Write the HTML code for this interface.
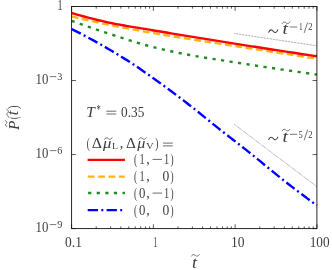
<!DOCTYPE html>
<html><head><meta charset="utf-8">
<style>
html,body{margin:0;padding:0;background:#fff;}
body{width:332px;height:270px;overflow:hidden;}
svg{display:block;}
text{font-family:"Liberation Serif",serif;fill:#3c3c3c;}
</style></head><body>
<svg width="332" height="270" viewBox="0 0 332 270">
<rect width="332" height="270" fill="#fff"/>
<path d="M234.5,33.5 L316.5,45.8" stroke="#333" stroke-width="0.7" stroke-dasharray="0.6,0.9" fill="none"/>
<path d="M234.5,124.5 L316.5,186.3" stroke="#333" stroke-width="0.7" stroke-dasharray="0.6,0.9" fill="none"/>
<path d="M71.60,29.00 L74.71,30.56 L77.81,32.13 L80.92,33.74 L84.02,35.37 L87.13,37.02 L90.23,38.69 L93.34,40.39 L96.44,42.10 L99.55,43.84 L102.65,45.61 L105.76,47.39 L108.86,49.20 L111.97,51.03 L115.07,52.89 L118.18,54.78 L121.28,56.69 L124.39,58.62 L127.49,60.59 L130.60,62.59 L133.70,64.62 L136.81,66.69 L139.91,68.80 L143.02,70.94 L146.12,73.10 L149.23,75.29 L152.33,77.50 L155.44,79.72 L158.54,81.95 L161.65,84.19 L164.75,86.45 L167.86,88.73 L170.96,91.03 L174.07,93.34 L177.17,95.68 L180.28,98.03 L183.38,100.40 L186.49,102.78 L189.59,105.18 L192.70,107.61 L195.80,110.07 L198.91,112.56 L202.01,115.07 L205.12,117.60 L208.22,120.12 L211.33,122.65 L214.43,125.16 L217.54,127.65 L220.64,130.11 L223.75,132.54 L226.85,134.95 L229.96,137.34 L233.06,139.73 L236.17,142.12 L239.27,144.52 L242.38,146.94 L245.48,149.38 L248.59,151.85 L251.69,154.34 L254.80,156.85 L257.90,159.38 L261.01,161.91 L264.11,164.46 L267.22,167.00 L270.32,169.54 L273.43,172.07 L276.53,174.60 L279.64,177.10 L282.74,179.59 L285.85,182.05 L288.95,184.49 L292.06,186.89 L295.16,189.28 L298.27,191.64 L301.37,193.99 L304.48,196.32 L307.58,198.64 L310.69,200.94 L313.79,203.23 L316.90,205.50" stroke="#0000ff" stroke-width="2.4" fill="none" stroke-dasharray="10.3,3.3,2,3.3"/>
<path d="M71.60,20.90 L74.71,22.01 L77.81,23.11 L80.92,24.20 L84.02,25.28 L87.13,26.35 L90.23,27.42 L93.34,28.48 L96.44,29.53 L99.55,30.56 L102.65,31.60 L105.76,32.62 L108.86,33.63 L111.97,34.64 L115.07,35.65 L118.18,36.67 L121.28,37.68 L124.39,38.69 L127.49,39.69 L130.60,40.67 L133.70,41.64 L136.81,42.59 L139.91,43.52 L143.02,44.41 L146.12,45.27 L149.23,46.10 L152.33,46.89 L155.44,47.67 L158.54,48.42 L161.65,49.16 L164.75,49.87 L167.86,50.58 L170.96,51.26 L174.07,51.93 L177.17,52.58 L180.28,53.21 L183.38,53.83 L186.49,54.44 L189.59,55.02 L192.70,55.59 L195.80,56.15 L198.91,56.68 L202.01,57.19 L205.12,57.70 L208.22,58.19 L211.33,58.68 L214.43,59.16 L217.54,59.64 L220.64,60.12 L223.75,60.60 L226.85,61.09 L229.96,61.58 L233.06,62.06 L236.17,62.55 L239.27,63.03 L242.38,63.51 L245.48,64.00 L248.59,64.48 L251.69,64.95 L254.80,65.43 L257.90,65.91 L261.01,66.38 L264.11,66.85 L267.22,67.32 L270.32,67.79 L273.43,68.26 L276.53,68.73 L279.64,69.19 L282.74,69.65 L285.85,70.11 L288.95,70.57 L292.06,71.03 L295.16,71.48 L298.27,71.93 L301.37,72.38 L304.48,72.83 L307.58,73.28 L310.69,73.72 L313.79,74.16 L316.90,74.60" stroke="#228b22" stroke-width="2.4" fill="none" stroke-dasharray="3.2,5.4"/>
<path d="M71.60,16.30 L74.71,17.06 L77.81,17.81 L80.92,18.55 L84.02,19.28 L87.13,20.00 L90.23,20.71 L93.34,21.42 L96.44,22.11 L99.55,22.79 L102.65,23.46 L105.76,24.12 L108.86,24.77 L111.97,25.40 L115.07,26.03 L118.18,26.64 L121.28,27.25 L124.39,27.85 L127.49,28.44 L130.60,29.02 L133.70,29.59 L136.81,30.16 L139.91,30.72 L143.02,31.27 L146.12,31.82 L149.23,32.37 L152.33,32.90 L155.44,33.44 L158.54,33.97 L161.65,34.49 L164.75,35.01 L167.86,35.52 L170.96,36.03 L174.07,36.54 L177.17,37.04 L180.28,37.54 L183.38,38.03 L186.49,38.52 L189.59,39.01 L192.70,39.50 L195.80,39.99 L198.91,40.47 L202.01,40.95 L205.12,41.44 L208.22,41.92 L211.33,42.40 L214.43,42.88 L217.54,43.36 L220.64,43.84 L223.75,44.32 L226.85,44.81 L229.96,45.29 L233.06,45.78 L236.17,46.26 L239.27,46.75 L242.38,47.23 L245.48,47.71 L248.59,48.20 L251.69,48.68 L254.80,49.16 L257.90,49.64 L261.01,50.12 L264.11,50.59 L267.22,51.07 L270.32,51.55 L273.43,52.02 L276.53,52.50 L279.64,52.97 L282.74,53.45 L285.85,53.92 L288.95,54.39 L292.06,54.86 L295.16,55.33 L298.27,55.80 L301.37,56.27 L304.48,56.74 L307.58,57.20 L310.69,57.67 L313.79,58.14 L316.90,58.60" stroke="#ffb31a" stroke-width="2.4" fill="none" stroke-dasharray="6.9,3.5"/>
<path d="M71.60,13.00 L74.71,13.91 L77.81,14.80 L80.92,15.67 L84.02,16.52 L87.13,17.36 L90.23,18.17 L93.34,18.96 L96.44,19.73 L99.55,20.48 L102.65,21.20 L105.76,21.89 L108.86,22.56 L111.97,23.20 L115.07,23.82 L118.18,24.41 L121.28,24.98 L124.39,25.53 L127.49,26.07 L130.60,26.59 L133.70,27.11 L136.81,27.62 L139.91,28.13 L143.02,28.64 L146.12,29.15 L149.23,29.67 L152.33,30.20 L155.44,30.72 L158.54,31.24 L161.65,31.77 L164.75,32.29 L167.86,32.80 L170.96,33.32 L174.07,33.84 L177.17,34.35 L180.28,34.86 L183.38,35.37 L186.49,35.88 L189.59,36.39 L192.70,36.90 L195.80,37.41 L198.91,37.91 L202.01,38.41 L205.12,38.92 L208.22,39.42 L211.33,39.92 L214.43,40.41 L217.54,40.91 L220.64,41.41 L223.75,41.90 L226.85,42.40 L229.96,42.89 L233.06,43.39 L236.17,43.88 L239.27,44.37 L242.38,44.86 L245.48,45.35 L248.59,45.84 L251.69,46.32 L254.80,46.81 L257.90,47.29 L261.01,47.78 L264.11,48.26 L267.22,48.74 L270.32,49.22 L273.43,49.70 L276.53,50.18 L279.64,50.66 L282.74,51.13 L285.85,51.61 L288.95,52.08 L292.06,52.56 L295.16,53.03 L298.27,53.50 L301.37,53.97 L304.48,54.44 L307.58,54.90 L310.69,55.37 L313.79,55.84 L316.90,56.30" stroke="#ff0000" stroke-width="2.4" fill="none"/>
<rect x="71.6" y="6.5" width="245.30" height="222.10" fill="none" stroke="#111" stroke-width="0.9"/>
<path d="M71.60,228.6 v-4.3 M71.60,6.5 v4.3 M96.21,228.6 v-2.2 M96.21,6.5 v2.2 M110.61,228.6 v-2.2 M110.61,6.5 v2.2 M120.83,228.6 v-2.2 M120.83,6.5 v2.2 M128.75,228.6 v-2.2 M128.75,6.5 v2.2 M135.23,228.6 v-2.2 M135.23,6.5 v2.2 M140.70,228.6 v-2.2 M140.70,6.5 v2.2 M145.44,228.6 v-2.2 M145.44,6.5 v2.2 M149.63,228.6 v-2.2 M149.63,6.5 v2.2 M153.37,228.6 v-4.3 M153.37,6.5 v4.3 M177.98,228.6 v-2.2 M177.98,6.5 v2.2 M192.38,228.6 v-2.2 M192.38,6.5 v2.2 M202.60,228.6 v-2.2 M202.60,6.5 v2.2 M210.52,228.6 v-2.2 M210.52,6.5 v2.2 M216.99,228.6 v-2.2 M216.99,6.5 v2.2 M222.47,228.6 v-2.2 M222.47,6.5 v2.2 M227.21,228.6 v-2.2 M227.21,6.5 v2.2 M231.39,228.6 v-2.2 M231.39,6.5 v2.2 M235.13,228.6 v-4.3 M235.13,6.5 v4.3 M259.75,228.6 v-2.2 M259.75,6.5 v2.2 M274.15,228.6 v-2.2 M274.15,6.5 v2.2 M284.36,228.6 v-2.2 M284.36,6.5 v2.2 M292.29,228.6 v-2.2 M292.29,6.5 v2.2 M298.76,228.6 v-2.2 M298.76,6.5 v2.2 M304.23,228.6 v-2.2 M304.23,6.5 v2.2 M308.98,228.6 v-2.2 M308.98,6.5 v2.2 M313.16,228.6 v-2.2 M313.16,6.5 v2.2 M316.90,228.6 v-4.3 M316.90,6.5 v4.3 M71.6,6.50 h4.3 M316.9,6.50 h-4.3 M71.6,80.53 h4.3 M316.9,80.53 h-4.3 M71.6,154.57 h4.3 M316.9,154.57 h-4.3 M71.6,228.60 h4.3 M316.9,228.60 h-4.3" stroke="#111" stroke-width="0.7" fill="none"/>

<path d="M87.6,159.85 H124.9" stroke="#ff0000" stroke-width="2.4"/>
<path d="M87.7,176.6 H124.8" stroke="#ffb31a" stroke-width="2.4" stroke-dasharray="6.9,3.5"/>
<path d="M88.1,193.0 H124.9" stroke="#228b22" stroke-width="2.4" stroke-dasharray="3.2,5.4"/>
<path d="M87.7,210.1 H124.9" stroke="#0000ff" stroke-width="2.4" stroke-dasharray="10.3,3.3,2,3.3"/>

<g opacity="0.999">
<text transform="translate(57.50,10.10) scale(0.729,1.000)" font-size="14">1</text>
<text transform="translate(35.50,84.40) scale(0.914,1.000)" font-size="14">10</text>
<path d="M49.80,76.60 H56.30" stroke="#3c3c3c" stroke-width="0.7" fill="none"/>
<text transform="translate(57.30,80.10) scale(0.971,1.000)" font-size="10.5">3</text>
<text transform="translate(35.50,158.40) scale(0.914,1.000)" font-size="14">10</text>
<path d="M49.80,150.60 H56.30" stroke="#3c3c3c" stroke-width="0.7" fill="none"/>
<text transform="translate(57.30,154.10) scale(0.971,1.000)" font-size="10.5">6</text>
<text transform="translate(35.50,232.40) scale(0.914,1.000)" font-size="14">10</text>
<path d="M49.80,224.60 H56.30" stroke="#3c3c3c" stroke-width="0.7" fill="none"/>
<text transform="translate(57.30,228.10) scale(0.971,1.000)" font-size="10.5">9</text>
<text transform="translate(65.10,246.60) scale(0.960,1.000)" font-size="14">0.1</text>
<text transform="translate(153.60,246.60) scale(0.543,1.000)" font-size="14">1</text>
<text transform="translate(230.90,246.60) scale(0.971,1.000)" font-size="14">10</text>
<text transform="translate(309.70,246.60) scale(0.948,1.000)" font-size="14">100</text>
<text transform="translate(191.90,267.53) scale(1.294,1.184)" font-size="14" font-style="italic">t</text>
<path d="M191.50,256.03 C192.66,253.96 194.43,254.50 195.35,255.40 S198.04,256.84 199.20,254.59" stroke="#3c3c3c" stroke-width="0.75" fill="none" stroke-linecap="round"/>
<text transform="translate(86.30,116.80) scale(1.102,1.000)" font-size="14" font-style="italic">T</text>
<text transform="translate(96.40,113.40) scale(0.717,1.000)" font-size="12">*</text>
<path d="M106.40,111.20 H116.30" stroke="#3c3c3c" stroke-width="0.75" fill="none"/>
<path d="M106.40,114.00 H116.30" stroke="#3c3c3c" stroke-width="0.75" fill="none"/>
<text transform="translate(121.10,116.80) scale(0.947,1.000)" font-size="14">0.35</text>
<text transform="translate(86.70,148.34) scale(0.644,1.095)" font-size="14">(</text>
<text transform="translate(91.80,147.80) scale(1.133,1.000)" font-size="14">Δ</text>
<text transform="translate(103.02,147.80) scale(1.193,1.000)" font-size="14" font-style="italic">μ</text>
<path d="M104.60,139.23 C105.71,137.16 107.41,137.70 108.30,138.60 S110.89,140.04 112.00,137.79" stroke="#3c3c3c" stroke-width="0.75" fill="none" stroke-linecap="round"/>
<text transform="translate(112.10,149.30) scale(1.091,1.000)" font-size="9">L</text>
<text transform="translate(119.80,147.80) scale(1.000,1.000)" font-size="14">,</text>
<text transform="translate(126.00,147.80) scale(1.100,1.000)" font-size="14">Δ</text>
<text transform="translate(137.22,147.80) scale(1.150,1.000)" font-size="14" font-style="italic">μ</text>
<path d="M138.80,139.23 C139.91,137.16 141.61,137.70 142.50,138.60 S145.09,140.04 146.20,137.79" stroke="#3c3c3c" stroke-width="0.75" fill="none" stroke-linecap="round"/>
<text transform="translate(146.00,149.30) scale(1.200,1.000)" font-size="9">V</text>
<text transform="translate(155.30,148.34) scale(0.665,1.095)" font-size="14">)</text>
<path d="M163.00,143.10 H172.80" stroke="#3c3c3c" stroke-width="0.75" fill="none"/>
<path d="M163.00,145.90 H172.80" stroke="#3c3c3c" stroke-width="0.75" fill="none"/>
<text transform="translate(133.90,163.90) scale(0.665,1.040)" font-size="14">(</text>
<text transform="translate(139.60,164.20) scale(0.743,1.000)" font-size="14">1</text>
<text transform="translate(146.30,164.20) scale(1.000,1.000)" font-size="14">,</text>
<path d="M152.60,159.40 H162.00" stroke="#3c3c3c" stroke-width="0.75" fill="none"/>
<text transform="translate(164.10,164.20) scale(0.743,1.000)" font-size="14">1</text>
<text transform="translate(170.50,163.90) scale(0.665,1.040)" font-size="14">)</text>
<text transform="translate(133.90,180.80) scale(0.665,1.040)" font-size="14">(</text>
<text transform="translate(139.60,181.10) scale(0.743,1.000)" font-size="14">1</text>
<text transform="translate(146.30,181.10) scale(1.000,1.000)" font-size="14">,</text>
<text transform="translate(162.40,181.10) scale(0.971,1.000)" font-size="14">0</text>
<text transform="translate(170.50,180.80) scale(0.665,1.040)" font-size="14">)</text>
<text transform="translate(133.90,197.60) scale(0.665,1.040)" font-size="14">(</text>
<text transform="translate(139.00,197.90) scale(0.914,1.000)" font-size="14">0</text>
<text transform="translate(146.30,197.90) scale(1.000,1.000)" font-size="14">,</text>
<path d="M152.60,193.10 H162.00" stroke="#3c3c3c" stroke-width="0.75" fill="none"/>
<text transform="translate(164.10,197.90) scale(0.743,1.000)" font-size="14">1</text>
<text transform="translate(170.50,197.60) scale(0.665,1.040)" font-size="14">)</text>
<text transform="translate(133.90,214.50) scale(0.665,1.040)" font-size="14">(</text>
<text transform="translate(139.00,214.80) scale(0.914,1.000)" font-size="14">0</text>
<text transform="translate(146.30,214.80) scale(1.000,1.000)" font-size="14">,</text>
<text transform="translate(162.40,214.80) scale(0.971,1.000)" font-size="14">0</text>
<text transform="translate(170.50,214.50) scale(0.665,1.040)" font-size="14">)</text>
<path d="M268.70,32.25 C270.06,28.80 272.16,29.70 273.25,31.20 S276.44,33.60 277.80,29.85" stroke="#3c3c3c" stroke-width="1.05" fill="none" stroke-linecap="round"/>
<text transform="translate(282.40,34.23) scale(1.414,1.222)" font-size="14" font-style="italic">t</text>
<path d="M282.20,23.43 C283.34,21.36 285.09,21.90 286.00,22.80 S288.66,24.24 289.80,21.99" stroke="#3c3c3c" stroke-width="0.75" fill="none" stroke-linecap="round"/>
<path d="M289.80,27.00 H297.20" stroke="#3c3c3c" stroke-width="0.7" fill="none"/>
<text transform="translate(298.90,30.30) scale(0.705,1.000)" font-size="10.5">1</text>
<path d="M304.2,32.90 L307.6,22.40" stroke="#3c3c3c" stroke-width="0.7"/>
<text transform="translate(308.20,30.30) scale(0.819,1.000)" font-size="10.5">2</text>
<path d="M268.70,139.55 C270.06,136.10 272.16,137.00 273.25,138.50 S276.44,140.90 277.80,137.15" stroke="#3c3c3c" stroke-width="1.05" fill="none" stroke-linecap="round"/>
<text transform="translate(282.40,141.53) scale(1.414,1.222)" font-size="14" font-style="italic">t</text>
<path d="M282.20,130.73 C283.34,128.66 285.09,129.20 286.00,130.10 S288.66,131.54 289.80,129.29" stroke="#3c3c3c" stroke-width="0.75" fill="none" stroke-linecap="round"/>
<path d="M289.80,134.30 H297.20" stroke="#3c3c3c" stroke-width="0.7" fill="none"/>
<text transform="translate(298.40,137.60) scale(0.800,1.000)" font-size="10.5">5</text>
<path d="M304.2,140.20 L307.6,129.70" stroke="#3c3c3c" stroke-width="0.7"/>
<text transform="translate(308.20,137.60) scale(0.819,1.000)" font-size="10.5">2</text>
<g transform="translate(18.5,130) rotate(-90)">
<text transform="translate(0.09,0.00) scale(1.111,1.000)" font-size="14" font-style="italic">P</text>
<text transform="translate(11.00,-0.30) scale(0.558,1.040)" font-size="14">(</text>
<text transform="translate(14.80,-0.07) scale(1.151,1.209)" font-size="14" font-style="italic">t</text>
<text transform="translate(21.00,-0.30) scale(0.772,1.040)" font-size="14">)</text>
<path d="M3.60,-11.67 C4.44,-13.74 5.73,-13.20 6.40,-12.30 S8.36,-10.86 9.20,-13.11" stroke="#3c3c3c" stroke-width="0.75" fill="none" stroke-linecap="round"/>
<path d="M13.80,-10.27 C14.82,-12.34 16.38,-11.80 17.20,-10.90 S19.58,-9.46 20.60,-11.71" stroke="#3c3c3c" stroke-width="0.75" fill="none" stroke-linecap="round"/>
</g>
</g>
</svg>
</body></html>
